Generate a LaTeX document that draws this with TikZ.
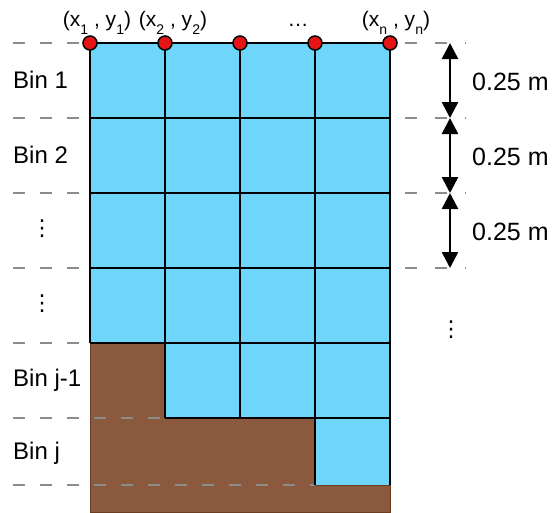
\documentclass[tikz,border=0pt]{standalone}
\usepackage{fontspec}
\setmainfont{Liberation Sans}
\newfontfamily\symfont{DejaVu Sans}
\usetikzlibrary{arrows.meta}
\definecolor{water}{RGB}{110,214,250}
\definecolor{soil}{RGB}{139,90,62}
\definecolor{soiledge}{RGB}{110,60,30}
\definecolor{dashgray}{RGB}{140,140,140}
\definecolor{dotred}{RGB}{230,20,20}
\newcommand{\sbs}[1]{\raisebox{-8pt}{\fontsize{14}{14}\selectfont #1}}
\begin{document}
\begin{tikzpicture}[x=1pt,y=-1pt,
  gridline/.style={black,line width=2.6pt},
  binlabel/.style={font=\fontsize{24}{28}\selectfont,anchor=west,inner sep=0pt},
  dimlabel/.style={font=\fontsize{25}{28}\selectfont,anchor=west,inner sep=0pt},
  vdotlabel/.style={font=\symfont\fontsize{22}{24}\selectfont,inner sep=0pt},
  toplabel/.style={font=\fontsize{21}{24}\selectfont,inner sep=0pt},
  guide/.style={dashgray,line width=2.2pt,dash pattern=on 12pt off 15pt},
  dimarrow/.style={black,line width=2.6pt,{Triangle[width=16pt,length=16pt]}-{Triangle[width=16pt,length=16pt]}},
  pt/.style={circle,fill=dotred,draw=black,line width=1.5pt,minimum size=14pt,inner sep=0pt}]
\useasboundingbox (0,0) rectangle (559,512);
% water
\fill[water] (90,43) -- (390,43) -- (390,485) -- (315,485) -- (315,418) -- (165,418) -- (165,343) -- (90,343) -- cycle;
% soil
\fill[soil,draw=soiledge,line width=1pt] (90,343) -- (165,343) -- (165,418) -- (315,418) -- (315,485) -- (390,485) -- (390,512) -- (90,512) -- cycle;
% dashed guides left
\foreach \yy in {43,118,193,268,343}{\draw[guide] (13,\yy) -- (90,\yy);}
\draw[guide] (13,418) -- (165,418);
\draw[guide] (13,485) -- (315,485);
% dashed guides right
\foreach \yy in {43,118,193,268}{\draw[guide,dash pattern=on 12pt off 18pt, dash phase=-15pt] (390,\yy) -- (466,\yy);}
% grid
\foreach \yy in {43,118,193,268}{\draw[gridline] (90,\yy) -- (390,\yy);}
\draw[gridline] (90,343) -- (390,343);
\draw[gridline] (165,418) -- (390,418);
\draw[gridline] (90,41.7) -- (90,343);
\draw[gridline] (165,43) -- (165,418);
\draw[gridline] (240,43) -- (240,418);
\draw[gridline] (315,43) -- (315,485);
\draw[gridline] (390,41.7) -- (390,485);
% points
\node[pt] (p1) at (90,43) {};
\node[pt] (p2) at (165,43) {};
\node[pt] (p3) at (240,43) {};
\node[pt] (p4) at (315,43) {};
\node[pt] (p5) at (390,43) {};
% top labels
\node[toplabel,anchor=base] (l1) at (97,26) {(x\sbs{1} , y\sbs{1})};
\node[toplabel,anchor=base] (l2) at (173,26) {(x\sbs{2} , y\sbs{2})};
\node[toplabel,anchor=base] (l3) at (298,26) {\dots};
\node[toplabel,anchor=base] (l4) at (396,26) {(x\sbs{n} , y\sbs{n})};
% bin labels
\node[binlabel] (b1) at (13,80) {Bin 1};
\node[binlabel] (b2) at (13,155) {Bin 2};
\node[vdotlabel] (b3) at (42,229) {⋮};
\node[vdotlabel] (b4) at (42,304) {⋮};
\node[binlabel] (b5) at (13,380) {Bin j-1};
\node[binlabel] (b6) at (13,453) {Bin j};
% dimension arrows
\coordinate (d0) at (450,43);
\coordinate (d1) at (450,118);
\coordinate (d2) at (450,193);
\coordinate (d3) at (450,268);
\draw[dimarrow] (d0) -- (d1);
\draw[dimarrow] (d1) -- (d2);
\draw[dimarrow] (d2) -- (d3);
\node[dimlabel] (m1) at (472,82) {0.25 m};
\node[dimlabel] (m2) at (472,157) {0.25 m};
\node[dimlabel] (m3) at (472,232) {0.25 m};
\node[vdotlabel] (vd) at (451,330) {⋮};
\end{tikzpicture}
\end{document}
